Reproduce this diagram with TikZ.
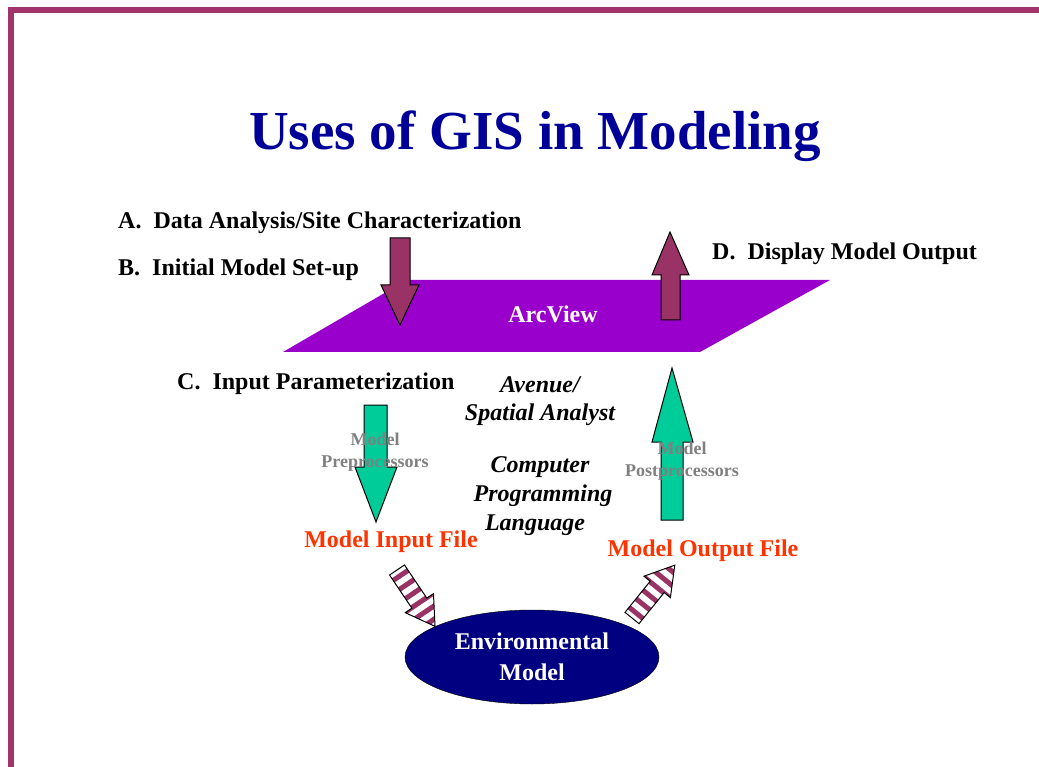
\documentclass[tikz,border=0pt]{standalone}
\usepackage{fontspec}
\setmainfont{Liberation Serif}
\usetikzlibrary{shapes.geometric}
\definecolor{framered}{HTML}{A3346B}
\definecolor{titleblue}{HTML}{000099}
\definecolor{arcpurple}{HTML}{9900CC}
\definecolor{arrowred}{HTML}{993366}
\definecolor{arrowgreen}{HTML}{00CC99}
\definecolor{envblue}{HTML}{000080}
\definecolor{fileorange}{HTML}{FF3300}

\begin{document}
\begin{tikzpicture}[x=1pt,y=-1pt,
  usetxt/.style={font=\fontsize{24}{26}\selectfont\bfseries, inner sep=0pt},
  tooltxt/.style={font=\fontsize{24}{30}\selectfont\bfseries\itshape, inner sep=0pt, align=center},
  proctxt/.style={font=\fontsize{18}{22}\selectfont\bfseries, text=gray, inner sep=0pt, align=center},
  filetxt/.style={font=\fontsize{24}{26}\selectfont\bfseries, text=fileorange, inner sep=0pt},
  blockarrow/.style={draw=black, line width=1pt, line join=miter}]
\useasboundingbox (0,0) rectangle (1039,767);
% frame
\draw[framered, line width=6pt] (11,767) -- (11,10) -- (1039,10);
% title
\node[font=\fontsize{55}{60}\selectfont\bfseries, text=titleblue, anchor=base, inner sep=0pt] (title) at (535,150) {Uses of GIS in Modeling};
% ArcView plane
\fill[arcpurple] (283,352) -- (407,280) -- (830,280) -- (700,352) -- cycle;
\node[usetxt, text=white, anchor=base] (arcview) at (553,323) {ArcView};
% GIS arrows
\filldraw[blockarrow, fill=arrowred] (390,238) -- (410,238) -- (410,285) -- (419,285) -- (400,325) -- (381,285) -- (390,285) -- cycle;
\filldraw[blockarrow, fill=arrowred] (661,320) -- (680,320) -- (680,275) -- (689,275) -- (670,232) -- (652,275) -- (661,275) -- cycle;
\node[usetxt, anchor=base west] (usea) at (118,229) {A.\ \ Data Analysis/Site Characterization};
\node[usetxt, anchor=base west] (useb) at (118,276) {B.\ \ Initial Model Set-up};
\node[usetxt, anchor=base west] (usec) at (177,389) {C.\ \ Input Parameterization};
\node[usetxt, anchor=base west] (used) at (712,260) {D.\ \ Display Model Output};
% model processors
\filldraw[blockarrow, fill=arrowgreen] (364,405) -- (387,405) -- (387,467) -- (397,467) -- (376,522) -- (355,467) -- (364,467) -- cycle;
\filldraw[blockarrow, fill=arrowgreen] (661,520) -- (683,520) -- (683,442) -- (693,442) -- (672,368) -- (652,442) -- (661,442) -- cycle;
\node[proctxt] (preproc) at (375,452) {Model\\Preprocessors};
\node[proctxt] (postproc) at (682,461) {Model\\Postprocessors};
\node[tooltxt, anchor=base] (avenue) at (540,392) {Avenue/};
\node[tooltxt, anchor=base] (spatial) at (540,420) {Spatial Analyst};
\node[tooltxt, anchor=base] (computer) at (540,472) {Computer};
\node[tooltxt, anchor=base] (programming) at (543,501) {Programming};
\node[tooltxt, anchor=base] (language) at (535,530) {Language};
\node[filetxt, anchor=base] (inputfile) at (391,547) {Model Input File};
\node[filetxt, anchor=base] (outputfile) at (703,556) {Model Output File};
% environmental model
\node[ellipse, draw=black, fill=envblue, minimum width=254pt, minimum height=94pt, inner sep=0pt,
  text=white, font=\fontsize{24}{31}\selectfont\bfseries, align=center] (envmodel) at (532,657) {Environmental\\Model};
% striped arrows
\foreach \tx/\ty/\ang in {397/570/-56, 632/618/51}{
  \begin{scope}[shift={(\tx,\ty)}, rotate=\ang]
    \path[save path=\stripepath] (0,-9) -- (40,-9) -- (40,-17) -- (68,0) -- (40,17) -- (40,9) -- (0,9) -- cycle;
    \fill[white, use path=\stripepath];
    \begin{scope}
      \clip[use path=\stripepath];
      \foreach \s in {4,15,...,70}
        \fill[arrowred] (\s,-20) rectangle (\s+5,20);
    \end{scope}
    \draw[blockarrow, use path=\stripepath];
  \end{scope}
}
\end{tikzpicture}
\end{document}
